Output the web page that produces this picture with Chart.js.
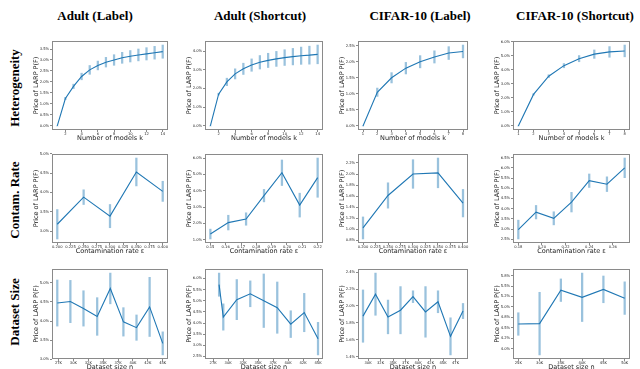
<!DOCTYPE html>
<html lang="en">
<head>
<meta charset="UTF-8">
<title>Price of LARP</title>
<script src="https://cdn.jsdelivr.net/npm/chart.js"></script>
<style>
  body { margin: 0; background: #fff; }
  #page { position: relative; width: 640px; height: 369px; overflow: hidden; }
  .colTitle, .rowTitle {
    position: absolute; font-family: 'Liberation Serif', serif;
    font-weight: bold; font-size: 13px; white-space: nowrap; color: #000;
  }
  .colTitle { top: 8px; transform: translateX(-50%); }
  .rowTitle { left: 15px; transform: translate(-50%, -50%) rotate(-90deg); }
  canvas { position: absolute; }
</style>
</head>
<body>
<div id="page"></div>

<script>
// ---- data (percent) ----
const modelsK14 = [1, 2, 3, 4, 5, 6, 7, 8, 9, 10, 11, 12, 13, 14];
const modelsK8 = [1, 2, 3, 4, 5, 6, 7, 8];

const hetAdultLabel = [0, 1.25, 1.8, 2.25, 2.55, 2.75, 2.9, 3.0, 3.1, 3.17, 3.23, 3.28, 3.33, 3.38];
const hetAdultLabelErr = [0, 0.05, 0.1, 0.15, 0.2, 0.2, 0.22, 0.24, 0.25, 0.26, 0.27, 0.28, 0.29, 0.3];
const hetAdultShortcut = [0, 1.7, 2.35, 2.78, 3.05, 3.25, 3.4, 3.5, 3.58, 3.65, 3.7, 3.75, 3.78, 3.82];
const hetAdultShortcutErr = [0, 0.05, 0.2, 0.27, 0.3, 0.33, 0.36, 0.38, 0.4, 0.42, 0.44, 0.46, 0.48, 0.5];
const hetCifarLabel = [0, 1.05, 1.5, 1.8, 2.0, 2.15, 2.27, 2.32];
const hetCifarLabelErr = [0, 0.13, 0.16, 0.18, 0.19, 0.19, 0.2, 0.2];
const hetCifarShortcut = [0, 2.25, 3.55, 4.3, 4.8, 5.12, 5.28, 5.35];
const hetCifarShortcutErr = [0, 0.05, 0.1, 0.15, 0.22, 0.3, 0.38, 0.42];

const contamLabelX = [0.2, 0.25, 0.3, 0.35, 0.4];
const contamAdultShortcutX = [0.15, 0.1617, 0.1733, 0.185, 0.1967, 0.2083, 0.22];
const contamCifarShortcutX = [0.18, 0.195, 0.21, 0.225, 0.24, 0.255, 0.27];

const contamAdultLabel = [3.18, 3.88, 3.39, 4.53, 4.03];
const contamAdultLabelErr = [0.38, 0.19, 0.3, 0.36, 0.26];
const contamAdultShortcut = [1.35, 2.05, 2.27, 3.7, 5.1, 3.12, 4.8];
const contamAdultShortcutErr = [0.3, 0.45, 0.38, 0.38, 0.78, 0.73, 1.2];
const contamCifarLabel = [1.02, 1.61, 2.0, 2.02, 1.47];
const contamCifarLabelErr = [0.2, 0.23, 0.26, 0.27, 0.25];
const contamCifarShortcut = [2.98, 3.83, 3.53, 4.32, 5.37, 5.2, 6.0];
const contamCifarShortcutErr = [0.46, 0.33, 0.32, 0.48, 0.33, 0.36, 0.48];

// dataset sizes in thousands
const sizeAdultLabelX = [27.3, 29.5, 31.7, 34.0, 36.2, 38.4, 40.6, 42.8, 45.0];
const sizeAdultShortcutX = [28.5, 29.2, 31.45, 33.7, 35.95, 38.2, 40.45, 42.7, 45.0];
const sizeCifarLabelX = [29, 31.5, 34, 36.5, 39, 41.5, 44, 46.5, 49];
const sizeCifarShortcutX = [25, 30, 35, 40, 45, 50];

const sizeAdultLabel = [4.47, 4.51, 4.33, 4.12, 4.85, 3.98, 3.83, 4.37, 3.42];
const sizeAdultLabelErr = [0.6, 0.55, 0.46, 0.49, 0.4, 0.37, 0.33, 0.77, 0.3];
const sizeAdultShortcut = [5.72, 4.27, 5.05, 5.31, 5.0, 4.69, 3.95, 4.47, 3.3];
const sizeAdultShortcutErr = [0.52, 0.59, 0.9, 0.58, 1.2, 1.15, 0.6, 0.86, 0.73];
const sizeCifarLabel = [1.88, 2.14, 1.87, 1.95, 2.11, 1.93, 2.05, 1.64, 1.94];
const sizeCifarLabelErr = [0.31, 0.25, 0.2, 0.28, 0.07, 0.3, 0.13, 0.22, 0.09];
const sizeCifarShortcut = [4.59, 4.6, 5.4, 5.23, 5.42, 5.21];
const sizeCifarShortcutErr = [0.27, 0.75, 0.27, 0.58, 0.32, 0.39];

// ---- tick values / labels ----
const kTicks14 = [2, 4, 6, 8, 10, 12, 14];
const kTicks8 = [1, 2, 3, 4, 5, 6, 7, 8];
const contamLabelTicks = [0.2, 0.225, 0.25, 0.275, 0.3, 0.325, 0.35, 0.375, 0.4];
const contamAdultShortcutTicks = [0.15, 0.16, 0.17, 0.18, 0.19, 0.2, 0.21, 0.22];
const contamCifarShortcutTicks = [0.18, 0.2, 0.22, 0.24, 0.26];
const sizeTicksAdult = [27.5, 30, 32.5, 35, 37.5, 40, 42.5, 45];
const sizeTicksCifarLabel = [30, 32.5, 35, 37.5, 40, 42.5, 45, 47.5];
const sizeTicksCifarShortcut = [25, 30, 35, 40, 45, 50];

const colTitles = ['Adult (Label)', 'Adult (Shortcut)', 'CIFAR-10 (Label)', 'CIFAR-10 (Shortcut)'];
const rowTitles = ['Heterogeneity', 'Contam. Rate', 'Dataset Size'];
const xTitles = ['Number of models k', 'Contamination rate \u03b5', 'Dataset size n'];
const yTitle = 'Price of LARP P(F)';

// ---- layout (plot area edges, px) ----
const colLeft = [52, 205, 358, 513];
const colRight = [168, 323, 468, 630];
const colCenter = [95, 260, 420, 575];
const rowTop = [41, 154, 269];
const rowBottom = [130, 243, 359];
const rowCenter = [88, 200, 312];

const range = (a, b, s) => { const r = []; for (let v = a; v <= b + 1e-9; v += s) r.push(+v.toFixed(4)); return r; };
const pct = v => v.toFixed(1) + '%';
const kLabel = v => String(v);
const dec3 = v => v.toFixed(3);
const dec2 = v => v.toFixed(2);
const kilo = v => Math.floor(v) + 'K';

const panels = [
  { x: modelsK14, y: hetAdultLabel, err: hetAdultLabelErr, xTicks: kTicks14, xFmt: kLabel, yTicks: range(0, 3.5, 0.5) },
  { x: modelsK14, y: hetAdultShortcut, err: hetAdultShortcutErr, xTicks: kTicks14, xFmt: kLabel, yTicks: range(0, 4, 1) },
  { x: modelsK8, y: hetCifarLabel, err: hetCifarLabelErr, xTicks: kTicks8, xFmt: kLabel, yTicks: range(0, 2.5, 0.5) },
  { x: modelsK8, y: hetCifarShortcut, err: hetCifarShortcutErr, xTicks: kTicks8, xFmt: kLabel, yTicks: range(0, 6, 1) },
  { x: contamLabelX, y: contamAdultLabel, err: contamAdultLabelErr, xTicks: contamLabelTicks, xFmt: dec3, yTicks: range(3, 5, 0.5) },
  { x: contamAdultShortcutX, y: contamAdultShortcut, err: contamAdultShortcutErr, xTicks: contamAdultShortcutTicks, xFmt: dec2, yTicks: range(1, 6, 1) },
  { x: contamLabelX, y: contamCifarLabel, err: contamCifarLabelErr, xTicks: contamLabelTicks, xFmt: dec3, yTicks: range(0.8, 2.2, 0.2) },
  { x: contamCifarShortcutX, y: contamCifarShortcut, err: contamCifarShortcutErr, xTicks: contamCifarShortcutTicks, xFmt: dec2, yTicks: range(2.5, 6.5, 0.5) },
  { x: sizeAdultLabelX, y: sizeAdultLabel, err: sizeAdultLabelErr, xTicks: sizeTicksAdult, xFmt: kilo, yTicks: range(3, 5, 0.5) },
  { x: sizeAdultShortcutX, y: sizeAdultShortcut, err: sizeAdultShortcutErr, xTicks: sizeTicksAdult, xFmt: kilo, yTicks: range(2.5, 6, 0.5),
    xMin: 26.15, xMax: 45.83 },
  { x: sizeCifarLabelX, y: sizeCifarLabel, err: sizeCifarLabelErr, xTicks: sizeTicksCifarLabel, xFmt: kilo, yTicks: range(1.4, 2.4, 0.2) },
  { x: sizeCifarShortcutX, y: sizeCifarShortcut, err: sizeCifarShortcutErr, xTicks: sizeTicksCifarShortcut, xFmt: kilo, yTicks: range(4, 5.75, 0.25),
    yLabels: ['4.0%', '4.2%', '4.5%', '4.8%', '5.0%', '5.2%', '5.5%', '5.8%'] }
];

// box around each plot area (all four spines)
const frame = {
  id: 'frame',
  afterDraw(chart) {
    const a = chart.chartArea, ctx = chart.ctx;
    ctx.save();
    ctx.strokeStyle = '#8a8a8a';
    ctx.lineWidth = 1;
    ctx.strokeRect(a.left + 0.5, a.top + 0.5, a.right - a.left - 1, a.bottom - a.top - 1);
    ctx.restore();
  }
};

Chart.defaults.font.family = 'DejaVu Sans';
Chart.defaults.color = '#222';

const page = document.getElementById('page');
colTitles.forEach((t, i) => {
  const d = document.createElement('div');
  d.className = 'colTitle'; d.textContent = t; d.style.left = colCenter[i] + 'px';
  page.appendChild(d);
});
rowTitles.forEach((t, i) => {
  const d = document.createElement('div');
  d.className = 'rowTitle'; d.textContent = t; d.style.top = rowCenter[i] + 'px';
  page.appendChild(d);
});

const Y_W = 20, X_H = 12, PAD_T = 4, PAD_R = 8, PAD_B = 2;

panels.forEach((p, idx) => {
  const row = Math.floor(idx / 4), col = idx % 4;
  const L = colLeft[col], R = colRight[col], T = rowTop[row], B = rowBottom[row];
  const cv = document.createElement('canvas');
  cv.width = R - L + Y_W + PAD_R;
  cv.height = B - T + PAD_T + X_H + PAD_B;
  cv.style.left = (L - Y_W) + 'px';
  cv.style.top = (T - PAD_T) + 'px';
  page.appendChild(cv);

  // matplotlib-like 5% margins
  const lo = p.y.map((v, i) => v - p.err[i]);
  const hi = p.y.map((v, i) => v + p.err[i]);
  const yMin = Math.min(...lo), yMax = Math.max(...hi);
  const xMin = Math.min(...p.x), xMax = Math.max(...p.x);
  const ym = (yMax - yMin) * 0.05, xm = (xMax - xMin) * 0.05;

  new Chart(cv, {
    type: 'line',
    data: {
      datasets: [
        {
          type: 'line',
          data: p.x.map((v, i) => ({ x: v, y: p.y[i] })),
          borderColor: '#1f77b4',
          borderWidth: 1.1,
          pointRadius: 0,
          tension: 0,
          order: 0
        },
        {
          type: 'bar',
          data: p.x.map((v, i) => ({ x: v, y: [lo[i], hi[i]] })),
          backgroundColor: 'rgba(31,119,180,0.45)',
          barThickness: 1.6,
          grouped: false,
          order: 1
        }
      ]
    },
    options: {
      responsive: false,
      animation: false,
      layout: { padding: { top: PAD_T, right: PAD_R, bottom: PAD_B, left: 0 } },
      plugins: { legend: { display: false }, tooltip: { enabled: false } },
      scales: {
        x: {
          type: 'linear',
          offset: false,
          min: p.xMin !== undefined ? p.xMin : xMin - xm,
          max: p.xMax !== undefined ? p.xMax : xMax + xm,
          afterBuildTicks: s => { s.ticks = p.xTicks.map(v => ({ value: v })); },
          afterFit: s => { s.height = X_H; },
          ticks: { font: { size: 3.7 }, padding: 0, maxRotation: 0, autoSkip: false, callback: v => p.xFmt(v) },
          grid: { display: true, drawOnChartArea: false, tickLength: 2, color: '#8a8a8a', offset: false },
          border: { display: false },
          title: { display: true, text: xTitles[row], font: { size: 6.5 }, padding: 0, color: '#222' }
        },
        y: {
          min: yMin - ym,
          max: yMax + ym,
          afterBuildTicks: s => { s.ticks = p.yTicks.map(v => ({ value: v })); },
          afterFit: s => { s.width = Y_W; },
          ticks: {
            font: { size: 3.7 }, padding: 1, autoSkip: false,
            callback: (v, i) => p.yLabels ? p.yLabels[i] : pct(v)
          },
          grid: { display: true, drawOnChartArea: false, tickLength: 2, color: '#8a8a8a' },
          border: { display: false },
          title: { display: true, text: yTitle, font: { size: 6.5 }, padding: 0, color: '#222' }
        }
      }
    },
    plugins: [frame]
  });
});
</script>
</body>
</html>
